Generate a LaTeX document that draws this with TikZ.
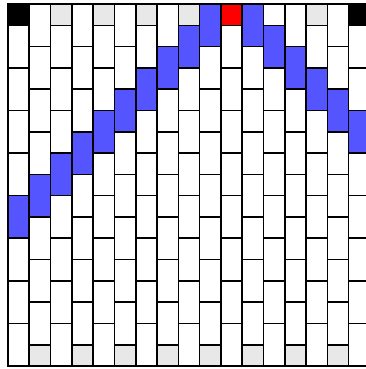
\documentclass[tikz,border=0pt]{standalone}
\definecolor{bl}{HTML}{5555FF}
\definecolor{gr}{HTML}{E8E8E8}
\definecolor{rd}{HTML}{FF0000}
\begin{document}
\begin{tikzpicture}[cell/.style={draw=black,line width=2.2pt,line join=miter}]
\useasboundingbox (-0.375,-0.14) rectangle (16.81,17.19);
% even columns: square on top, bricks below
\foreach \c in {0,2,...,16}{
  \foreach \k in {0,...,7}{
    \draw[cell,fill=white] (\c,{14-2*\k}) rectangle ++(1,2);
  }
}
% odd columns: bricks from top, square at bottom
\foreach \c in {1,3,...,15}{
  \foreach \k in {0,...,7}{
    \draw[cell,fill=white] (\c,{15-2*\k}) rectangle ++(1,2);
  }
  \draw[cell,fill=gr] (\c,0) rectangle ++(1,1);
}
% top squares of even columns
\foreach \c/\col in {0/black,2/gr,4/gr,6/gr,8/gr,10/rd,12/white,14/gr,16/black}{
  \draw[cell,fill=\col] (\c,16) rectangle ++(1,1);
}
% blue diagonal
\foreach \c in {0,...,9}{
  \draw[cell,fill=bl] (\c,{6+\c}) rectangle ++(1,2);
}
\foreach \c in {11,...,16}{
  \draw[cell,fill=bl] (\c,{26-\c}) rectangle ++(1,2);
}
\end{tikzpicture}
\end{document}
